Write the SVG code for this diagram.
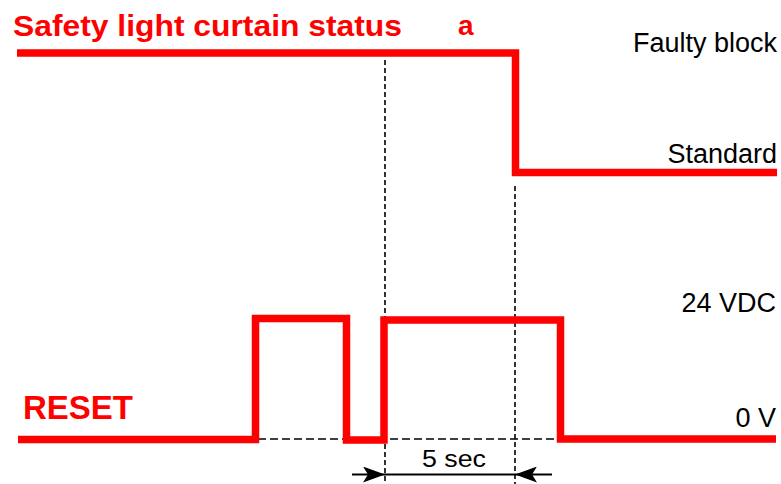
<svg xmlns="http://www.w3.org/2000/svg" width="781" height="484" viewBox="0 0 781 484">
<style>
.sig{fill:none;stroke:#ff0000;stroke-width:7.5;stroke-linejoin:miter;stroke-linecap:butt}
.dash{fill:none;stroke:#000;stroke-width:1.6;stroke-dasharray:5 3}
.hdash{fill:none;stroke:#000;stroke-width:1.6;stroke-dasharray:8 4}
.lbl{font-family:"Liberation Sans",Arial,sans-serif;font-size:27px;fill:#000}
.ttl{font-family:"Liberation Sans",Arial,sans-serif;font-weight:bold;fill:#ff0000}
.dim{fill:none;stroke:#000;stroke-width:1.8}
</style>
<defs>
<marker id="ah" viewBox="0 0 22 16" refX="22" refY="8" markerWidth="22" markerHeight="16" markerUnits="userSpaceOnUse" orient="auto">
<path d="M0,0 L22,8 L0,16 L5,8 Z" fill="#000"/>
</marker>
</defs>
<rect width="781" height="484" fill="#fff"/>
<g id="guides">
<line class="dash" x1="385" y1="60" x2="385" y2="484"/>
<line class="dash" x1="515" y1="186" x2="515" y2="484"/>
<line class="hdash" x1="258" y1="439" x2="558" y2="439"/>
</g>
<g id="status-signal">
<path class="sig" d="M17,53 H515.5 V172.5 H777"/>
</g>
<g id="reset-signal">
<path class="sig" d="M18,439.5 H255.5 V318.5 H346.5 V440 H384 V320 H560.5 V439 H776"/>
</g>
<g id="dimension">
<line class="dim" x1="352" y1="474.5" x2="385" y2="474.5" marker-end="url(#ah)"/>
<line class="dim" x1="385" y1="474.5" x2="515" y2="474.5"/>
<line class="dim" x1="552" y1="474.5" x2="515" y2="474.5" marker-end="url(#ah)"/>
<text class="lbl" x="422" y="467" textLength="64" lengthAdjust="spacingAndGlyphs" style="font-size:23px">5 sec</text>
</g>
<g id="labels">
<text class="ttl" x="13" y="36" style="font-size:30px" textLength="389" lengthAdjust="spacingAndGlyphs">Safety light curtain status</text>
<text class="ttl" x="458" y="35" style="font-size:28px">a</text>
<text class="lbl" x="777" y="52" text-anchor="end">Faulty block</text>
<text class="lbl" x="777" y="163" text-anchor="end">Standard</text>
<text class="lbl" x="776" y="312" text-anchor="end">24 VDC</text>
<text class="lbl" x="776" y="427" text-anchor="end">0 V</text>
<text class="ttl" x="23" y="419" style="font-size:33px">RESET</text>
</g>
</svg>
